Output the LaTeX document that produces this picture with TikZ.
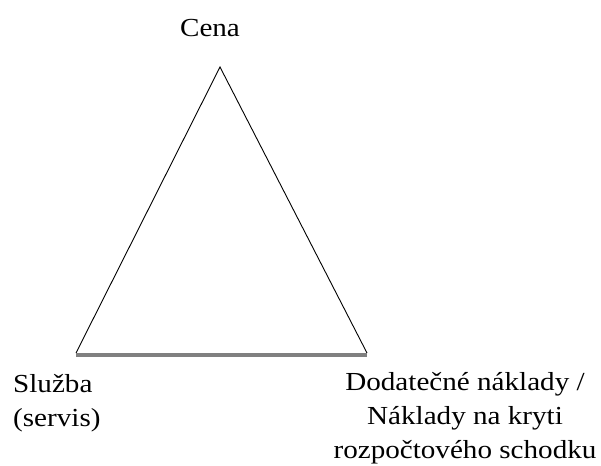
\documentclass[tikz,border=0pt]{standalone}
\usepackage{fontspec}
\setmainfont[FakeStretch=1.12]{Liberation Serif}
\begin{document}
\begin{tikzpicture}[x=1pt,y=-1pt,
  lbl/.style={inner sep=0pt,anchor=base,font=\fontsize{26}{34}\selectfont},
  side/.style={black,line width=0.9pt},
  basis/.style={gray,line width=4pt}]
\useasboundingbox (0,0) rectangle (601,465);
\coordinate (top) at (220,67);
\coordinate (bl) at (76,353);
\coordinate (br) at (367,353);
\coordinate (blb) at (76,355);
\coordinate (brb) at (367,355);
\draw[side] (bl) -- (top) -- (br);
\draw[basis] (blb) -- (brb);
\node[lbl] (cena) at (210,37) {Cena};
\node[lbl,anchor=base west,align=left] (sluzba) at (13,426) {Služba\\(servis)};
\node[lbl,align=center] (naklady) at (465,458) {Dodatečné náklady /\\Náklady na kryti\\rozpočtového schodku};
\end{tikzpicture}
\end{document}
